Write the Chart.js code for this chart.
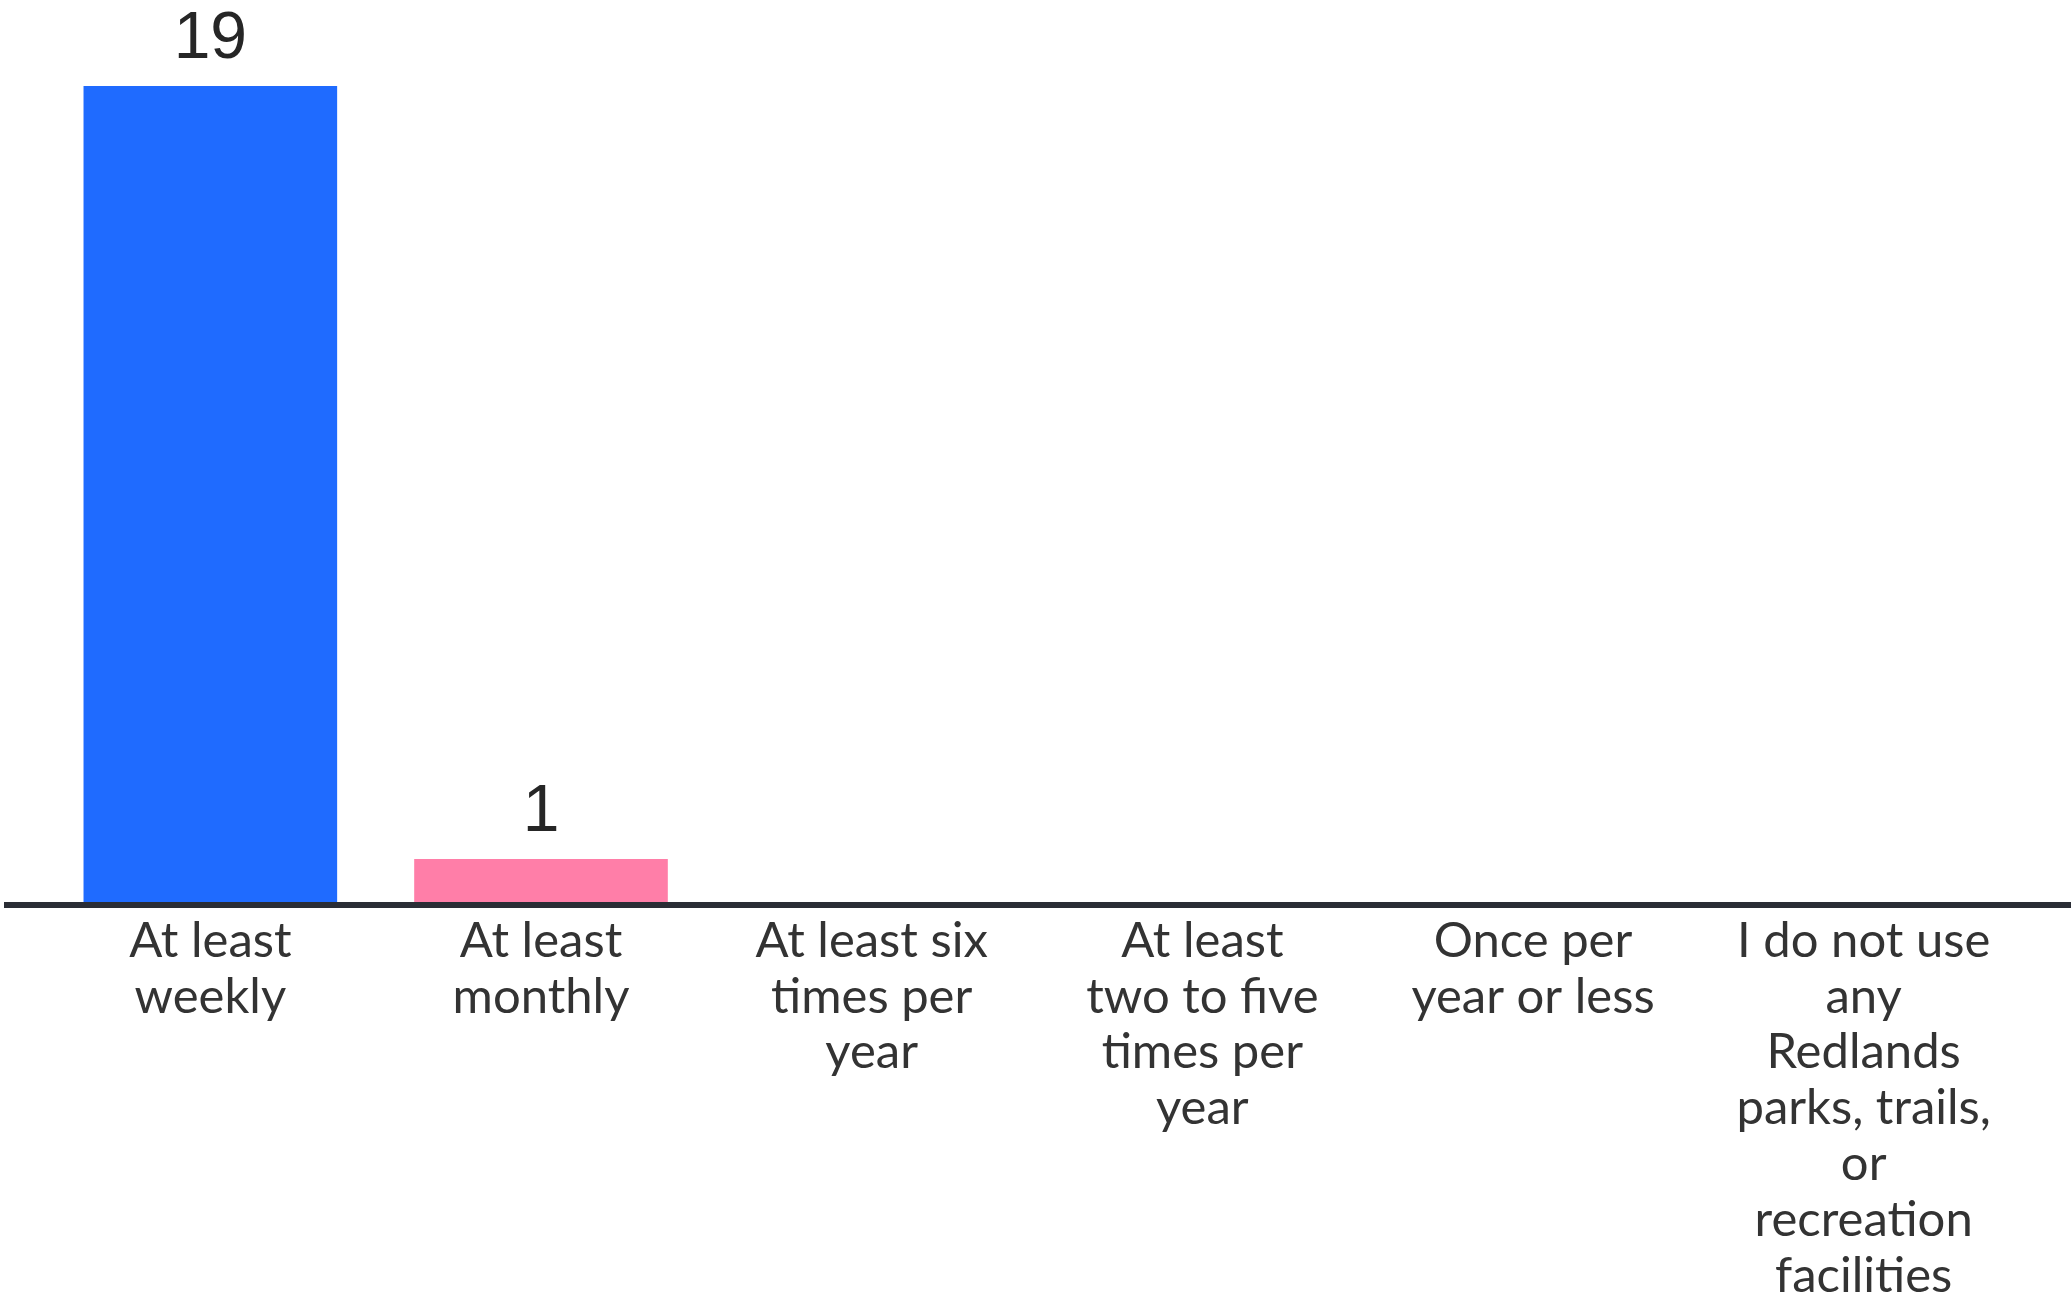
<!DOCTYPE html>
<html lang="en">
<head>
    <meta charset="UTF-8">
    <script src="https://cdn.jsdelivr.net/npm/chart.js"></script>
    <title>Park usage</title>
    <style>
        body {
            margin: 0;
            background: #fff;
        }
        #wrap {
            width: 2071px;
            height: 1303px;
        }
    </style>
</head>
<body>

<div id="wrap"><canvas id="usageChart" width="2071" height="1303"></canvas></div>

<script>
    const categories = [
        ['At least', 'weekly'],
        ['At least', 'monthly'],
        ['At least six', 'times per', 'year'],
        ['At least', 'two to five', 'times per', 'year'],
        ['Once per', 'year or less'],
        ['I do not use', 'any', 'Redlands', 'parks, trails,', 'or', 'recreation', 'facilities']
    ];
    const counts = [19, 1, 0, 0, 0, 0];
    const barColors = ['#1f6bff', '#ff7ea8', '#1f6bff', '#1f6bff', '#1f6bff', '#1f6bff'];

    // axis line runs the full width of the picture, not just the plot area
    const baseLine = {
        id: 'baseLine',
        afterDatasetsDraw(chart) {
            const c = chart.ctx;
            const y = chart.scales.y.getPixelForValue(0) + 3;
            c.save();
            c.strokeStyle = '#2a2d35';
            c.lineWidth = 6;
            c.beginPath();
            c.moveTo(4, y);
            c.lineTo(chart.width, y);
            c.stroke();
            c.restore();
        }
    };

    // value labels above the bars
    const valueLabels = {
        id: 'valueLabels',
        afterDatasetsDraw(chart) {
            const c = chart.ctx;
            const meta = chart.getDatasetMeta(0);
            c.save();
            c.font = '66px "Liberation Sans", Arial, sans-serif';
            c.fillStyle = '#262626';
            c.textAlign = 'center';
            c.textBaseline = 'alphabetic';
            meta.data.forEach((bar, i) => {
                if (counts[i] > 0) {
                    c.fillText(String(counts[i]), bar.x, bar.y - 28);
                }
            });
            c.restore();
        }
    };

    const ctx = document.getElementById('usageChart').getContext('2d');
    new Chart(ctx, {
        type: 'bar',
        data: {
            labels: categories,
            datasets: [{
                data: counts,
                backgroundColor: barColors,
                borderWidth: 0,
                categoryPercentage: 1,
                barPercentage: 0.767
            }]
        },
        options: {
            responsive: false,
            animation: false,
            layout: {
                padding: { left: 45, right: 42, top: 0, bottom: 0 }
            },
            plugins: {
                legend: { display: false },
                tooltip: { enabled: false }
            },
            scales: {
                x: {
                    grid: { display: false, drawTicks: false },
                    border: { display: false },
                    ticks: {
                        color: '#333333',
                        padding: 11,
                        maxRotation: 0,
                        autoSkip: false,
                        font: { family: 'Lato, "Noto Sans", sans-serif', size: 49, lineHeight: 1.14 }
                    },
                    afterFit(scale) {
                        scale.height = 401;
                    }
                },
                y: {
                    display: false,
                    min: 0,
                    max: 21
                }
            }
        },
        plugins: [baseLine, valueLabels]
    });
</script>

</body>
</html>
